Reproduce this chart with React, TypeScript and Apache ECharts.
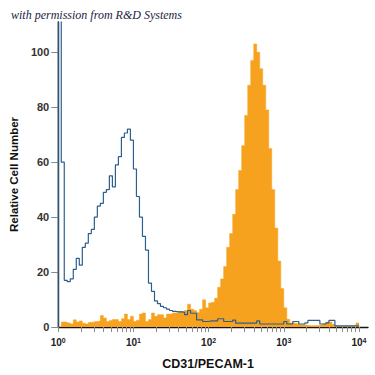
import React, { useEffect, useRef } from "react";
import * as echarts from "echarts";

// Histogram channels: each bin spans BIN_WIDTH decades of the log10 fluorescence axis
const BIN_WIDTH = 0.04;
const X_MAX_DECADE = 4.12;
const Y_MAX = 111;
const Y_TICKS = [0, 20, 40, 60, 80, 100];
const X_LABEL_EXPONENTS = [0, 1, 2, 3, 4];
const X_TICK_VALUES = [
  1, 2, 3, 4, 5, 6, 7, 8, 9,
  10, 20, 30, 40, 50, 60, 70, 80, 90,
  100, 200, 300, 400, 500, 600, 700, 800, 900,
  1000, 2000, 3000, 4000, 5000, 6000, 7000, 8000, 9000,
  10000,
];

// Isotype control (blue outline)
const ISOTYPE = [
  120, 60, 17, 16.5, 17.5, 21, 25, 22.5, 29, 30.5,
  34, 35.5, 40, 44, 45, 49, 50, 55, 51, 59,
  62, 69, 70.6, 72, 68, 57.5, 47.5, 40, 33, 28,
  16, 13, 9.5, 8.5, 7.5, 7, 6.5, 6, 5.7, 5.5,
  5.5, 5.4, 4.5, 6, 5, 5, 2.6, 2.6, 2, 2,
  2.2, 2.2, 2.2, 3, 3, 2, 2, 2, 2.5, 1.4,
  1.4, 1.4, 1.4, 1.4, 1.4, 1.4, 2.2, 1.1, 1.1, 1.1,
  1.1, 1.1, 1.1, 1.1, 1.1, 2, 1.1, 1.1, 2, 2,
  1.1, 1.1, 1.5, 2.4, 2.4, 2.4, 2.4, 1.1, 1.1, 1.5,
  2.4, 2.4, 0.4, 0.4, 0.4, 0.4, 0.4, 0.4, 0.4, 0.4,
];

// CD31/PECAM-1 stained cells (orange filled)
const CD31 = [
  0, 1.8, 1.8, 1.5, 1.1, 2.6, 1.8, 2.2, 1.4, 1.1,
  1.7, 1.7, 2, 2.2, 4.2, 3.3, 2, 2.4, 2.7, 2.7,
  2, 3, 4.7, 2.7, 3.9, 2, 2.5, 4.7, 5.1, 2,
  2.7, 5.1, 3.9, 4.5, 4.5, 3.3, 4.7, 4.7, 5.1, 5.1,
  5.7, 5.5, 6, 8.3, 6.5, 6, 5.3, 6.5, 9.9, 7,
  8.7, 9, 10.5, 14.5, 17.5, 22, 29, 34, 41, 50,
  57, 66, 77, 88, 97, 103, 100, 94, 88, 79,
  65, 50, 36, 24, 14, 7, 2.8, 1.5, 1.4, 1.2,
  0.8, 0.8, 0.6, 0.5, 0.5, 0.5, 0.6, 0.8, 1.2, 1.8,
  1.8, 1.0, 0.4, 0.3, 0.3, 0.3, 0.3, 0.3, 0.3, 1.5,
];

const toSteps = (vals: number[], startAtZero: boolean) => {
  const pts: number[][] = [];
  if (startAtZero) pts.push([0, 0]);
  vals.forEach((v, i) => pts.push([+(i * BIN_WIDTH).toFixed(3), v]));
  pts.push([+(vals.length * BIN_WIDTH).toFixed(3), vals[vals.length - 1]]);
  return pts;
};

const ORANGE = "#f7a21e";
const BLUE = "#2d5f8c";
const FONT = "'Liberation Sans', Arial, sans-serif";

export default function App() {
  const ref = useRef<HTMLDivElement>(null);
  useEffect(() => {
    if (!ref.current) return;
    const chart = echarts.init(ref.current, null, { renderer: "svg" });
    chart.setOption({
      animation: false,
      backgroundColor: "#ffffff",
      grid: { left: 55, right: 7, top: 22, bottom: 46 },
      graphic: [
        {
          type: "text",
          left: 11,
          top: 9,
          style: {
            text: "with permission from R&D Systems",
            font: "italic 12px 'Liberation Serif', 'DejaVu Serif', serif",
            fill: "#1c2342",
          },
        },
      ],
      xAxis: {
        type: "value",
        min: 0,
        max: X_MAX_DECADE,
        interval: 1,
        splitLine: { show: false },
        axisLine: { lineStyle: { color: "#151515", width: 1.4 } },
        axisTick: {
          show: true,
          length: 5,
          customValues: X_TICK_VALUES.map((v) => Math.log10(v)),
          lineStyle: { color: "#8a8a8a", width: 1 },
        },
        axisLabel: {
          margin: 10,
          customValues: X_LABEL_EXPONENTS,
          formatter: (v: number) =>
            X_LABEL_EXPONENTS.includes(v) ? `{b|10}{s|${v}}` : "",
          rich: {
            b: { fontSize: 10, fontWeight: "bold", color: "#222", fontFamily: FONT },
            s: { fontSize: 7, fontWeight: "bold", color: "#222", fontFamily: FONT, verticalAlign: "top" },
          },
        },
        name: "CD31/PECAM-1",
        nameLocation: "middle",
        nameGap: 30,
        nameTextStyle: {
          fontSize: 12.5,
          fontWeight: "bold",
          color: "#111",
          fontFamily: FONT,
          padding: [0, 10, 0, 0],
        },
      },
      yAxis: {
        type: "value",
        min: 0,
        max: Y_MAX,
        interval: 20,
        splitLine: { show: false },
        axisLine: { show: true, lineStyle: { color: "#151515", width: 1.4 } },
        axisTick: {
          show: true,
          length: 7,
          customValues: Y_TICKS,
          lineStyle: { color: "#8a8a8a", width: 1 },
        },
        axisLabel: {
          margin: 9,
          customValues: Y_TICKS,
          formatter: (v: number) => (Y_TICKS.includes(v) ? String(v) : ""),
          fontSize: 11,
          fontWeight: "bold",
          color: "#333",
          fontFamily: FONT,
        },
        name: "Relative Cell Number",
        nameLocation: "middle",
        nameGap: 37,
        nameTextStyle: {
          fontSize: 11.5,
          fontWeight: "bold",
          color: "#111",
          fontFamily: FONT,
        },
      },
      series: [
        {
          type: "line",
          step: "end",
          symbol: "none",
          z: 1,
          data: toSteps(CD31, false),
          lineStyle: { color: ORANGE, width: 0.5 },
          areaStyle: { color: ORANGE, opacity: 1 },
        },
        {
          type: "line",
          step: "end",
          symbol: "none",
          z: 2,
          data: toSteps(ISOTYPE, true),
          lineStyle: { color: BLUE, width: 1.2 },
        },
      ],
    });
    return () => chart.dispose();
  }, []);
  return (
    <div
      ref={ref}
      style={{ position: "fixed", left: 0, top: 0, width: 375, height: 375 }}
    />
  );
}
